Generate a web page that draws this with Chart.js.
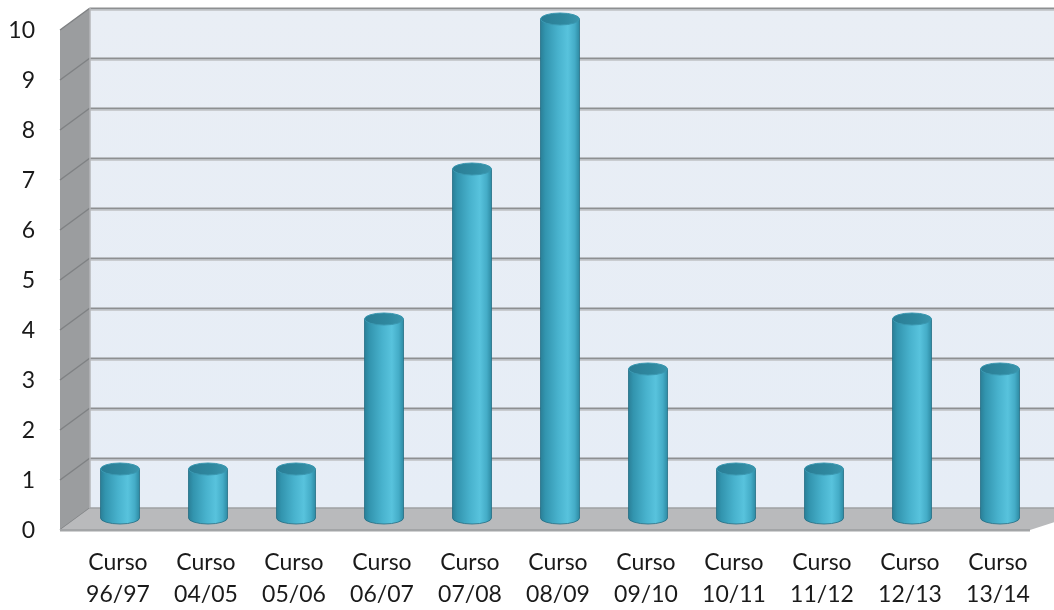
<!DOCTYPE html>
<html>
<head>
<meta charset="utf-8">
<title>Cursos</title>
<script src="https://cdn.jsdelivr.net/npm/chart.js@4/dist/chart.umd.min.js"></script>
<style>
  html, body { margin: 0; padding: 0; background: #ffffff; }
  #wrap { width: 1054px; height: 610px; position: relative; }
</style>
</head>
<body>
<div id="wrap"><canvas id="chart" width="1054" height="610"></canvas></div>
<script>
// Course labels (two lines each) and counts per course
const cursos = [
  ['Curso', '96/97'], ['Curso', '04/05'], ['Curso', '05/06'], ['Curso', '06/07'],
  ['Curso', '07/08'], ['Curso', '08/09'], ['Curso', '09/10'], ['Curso', '10/11'],
  ['Curso', '11/12'], ['Curso', '12/13'], ['Curso', '13/14']
];
const valores = [1, 1, 1, 4, 7, 10, 3, 1, 1, 4, 3];
const yTicks = [0, 1, 2, 3, 4, 5, 6, 7, 8, 9, 10];

// Half of the depth of the 3D box (the bars stand in the middle plane)
const HX = 15, HY = 11;

// Back wall, side wall and floor of the 3D box, drawn under the bars
const box3d = {
  id: 'box3d',
  beforeDatasetsDraw(chart) {
    const ctx = chart.ctx;
    const ys = chart.scales.y;
    const area = chart.chartArea;
    const xL = area.left - 1, xR = area.right - 1;
    const y0 = ys.getPixelForValue(yTicks[0]);
    const yTop = ys.getPixelForValue(yTicks[yTicks.length - 1]);
    ctx.save();

    // back wall
    const bg = ctx.createLinearGradient(0, yTop - HY, 0, y0 - HY);
    bg.addColorStop(0, '#e9eef5');
    bg.addColorStop(1, '#e6edf6');
    ctx.fillStyle = bg;
    ctx.fillRect(xL + HX, yTop - HY, xR - xL + 40, y0 - yTop);

    // side wall
    ctx.beginPath();
    ctx.moveTo(xL - HX, yTop + HY);
    ctx.lineTo(xL + HX, yTop - HY);
    ctx.lineTo(xL + HX, y0 - HY);
    ctx.lineTo(xL - HX, y0 + HY);
    ctx.closePath();
    ctx.fillStyle = '#9b9d9f';
    ctx.fill();

    // grid lines on back wall and side wall
    yTicks.forEach(v => {
      const y = ys.getPixelForValue(v);
      if (v > 0) {
        ctx.strokeStyle = '#c9ccd0';
        ctx.lineWidth = 1;
        ctx.beginPath();
        ctx.moveTo(xL + HX, y - HY + 2.5);
        ctx.lineTo(xR + 60, y - HY + 2.5);
        ctx.stroke();
        ctx.strokeStyle = '#8d8f91';
        ctx.lineWidth = 2;
        ctx.beginPath();
        ctx.moveTo(xL + HX, y - HY + 0.5);
        ctx.lineTo(xR + 60, y - HY + 0.5);
        ctx.stroke();
      }
      ctx.strokeStyle = '#7f8183';
      ctx.lineWidth = 1.5;
      ctx.beginPath();
      ctx.moveTo(xL - HX, y + HY);
      ctx.lineTo(xL + HX, y - HY);
      ctx.stroke();
    });

    // back-left edge of the box
    ctx.strokeStyle = '#b4b6b8';
    ctx.lineWidth = 1.5;
    ctx.beginPath();
    ctx.moveTo(xL + HX, yTop - HY);
    ctx.lineTo(xL + HX, y0 - HY);
    ctx.stroke();

    // floor
    ctx.beginPath();
    ctx.moveTo(xL - HX, y0 + HY);
    ctx.lineTo(xL + HX, y0 - HY);
    ctx.lineTo(xR + HX + 40, y0 - HY);
    ctx.lineTo(xR - HX + 40 - 40 + 2, y0 + HY);
    ctx.closePath();
    ctx.fillStyle = '#b9babc';
    ctx.fill();
    // floor front edge
    ctx.fillStyle = '#a3a5a7';
    ctx.fillRect(xL - HX, y0 + HY - 1, xR - xL + 2, 2.5);
    ctx.strokeStyle = '#9fa1a3';
    ctx.lineWidth = 1.5;
    ctx.beginPath();
    ctx.moveTo(xL + HX, y0 - HY);
    ctx.lineTo(xR + HX + 40, y0 - HY);
    ctx.stroke();
    ctx.restore();
  }
};

// Cylinders drawn over each bar element produced by the bar controller
const cylinders = {
  id: 'cylinders',
  afterDatasetsDraw(chart) {
    const ctx = chart.ctx;
    const meta = chart.getDatasetMeta(0);
    ctx.save();
    meta.data.forEach(bar => {
      const p = bar.getProps(['x', 'y', 'base', 'width'], true);
      const w = p.width, l = p.x - w / 2, r = p.x + w / 2, rx = w / 2, ry = 6;
      const top = p.y, bot = p.base - 1;

      const g = ctx.createLinearGradient(l, 0, r, 0);
      g.addColorStop(0, '#2a7f97');
      g.addColorStop(0.12, '#3294ae');
      g.addColorStop(0.45, '#48b2cd');
      g.addColorStop(0.7, '#58c3dd');
      g.addColorStop(0.88, '#44acc7');
      g.addColorStop(1, '#2e8ba4');

      // body with rounded bottom
      ctx.beginPath();
      ctx.moveTo(l, top);
      ctx.lineTo(l, bot);
      ctx.ellipse(p.x, bot, rx, ry, 0, Math.PI, 0, true);
      ctx.lineTo(r, top);
      ctx.closePath();
      ctx.fillStyle = g;
      ctx.fill();
      ctx.strokeStyle = 'rgba(35,110,132,0.8)';
      ctx.lineWidth = 1;
      ctx.stroke();

      // top cap
      const tg = ctx.createLinearGradient(l, 0, r, 0);
      tg.addColorStop(0, '#2a7d95');
      tg.addColorStop(0.6, '#2f889f');
      tg.addColorStop(1, '#3a95ad');
      ctx.beginPath();
      ctx.ellipse(p.x, top, rx, ry, 0, 0, Math.PI * 2);
      ctx.fillStyle = tg;
      ctx.fill();
      ctx.strokeStyle = '#3a98b1';
      ctx.lineWidth = 1;
      ctx.stroke();
    });
    ctx.restore();
  }
};

const font = { family: 'Lato, "Open Sans", sans-serif', size: 23, lineHeight: 32 / 23 };

new Chart(document.getElementById('chart'), {
  type: 'bar',
  data: {
    labels: cursos,
    datasets: [{
      data: valores,
      backgroundColor: 'rgba(0,0,0,0)',
      borderWidth: 0,
      barThickness: 39
    }]
  },
  options: {
    responsive: false,
    animation: false,
    events: [],
    layout: { padding: { top: 19, right: 10, left: 0, bottom: 0 } },
    plugins: { legend: { display: false }, tooltip: { enabled: false } },
    scales: {
      x: {
        grid: { display: false, drawTicks: false },
        border: { display: false },
        ticks: { color: '#1a1a1a', font: font, padding: 28, labelOffset: -2, maxRotation: 0, autoSkip: false },
        afterFit(scale) {
          scale.height = 91;
          scale.paddingLeft = 0; scale.paddingRight = 0;
          scale.paddingTop = 0; scale.paddingBottom = 0;
        }
      },
      y: {
        min: yTicks[0],
        max: yTicks[yTicks.length - 1],
        grid: { display: false, drawTicks: false },
        border: { display: false },
        ticks: { stepSize: 1, color: '#1a1a1a', font: font, padding: 41, labelOffset: 12 },
        afterFit(scale) {
          scale.width = 76;
          scale.paddingTop = 0; scale.paddingBottom = 0;
          scale.paddingLeft = 0; scale.paddingRight = 0;
        }
      }
    }
  },
  plugins: [box3d, cylinders]
});
</script>
</body>
</html>
